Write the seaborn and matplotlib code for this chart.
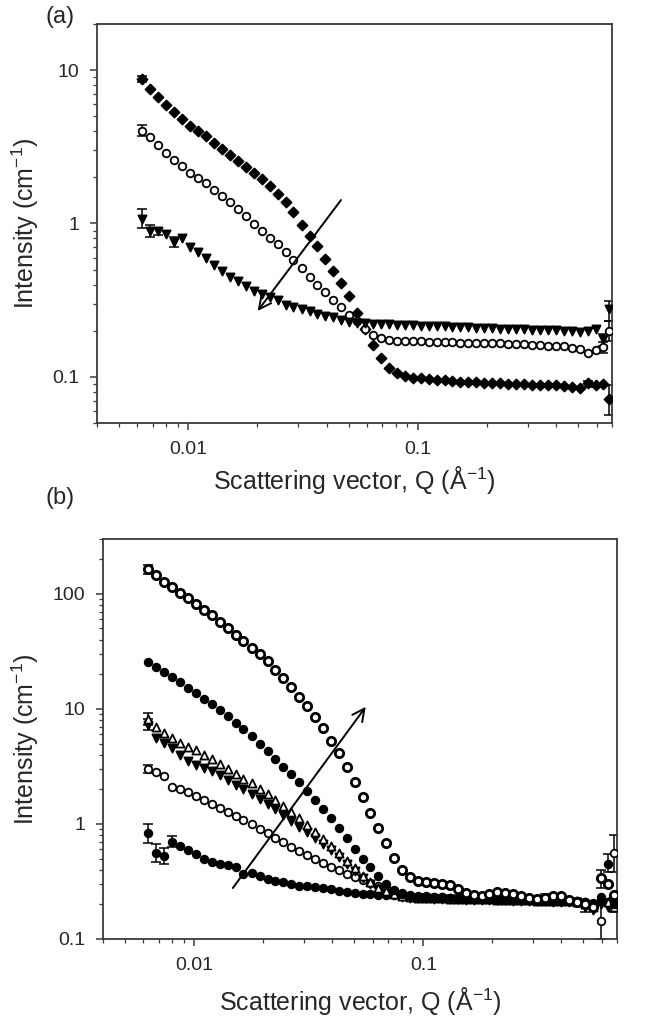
import numpy as np
import matplotlib
matplotlib.use("Agg")
import matplotlib.pyplot as plt
from matplotlib.ticker import FixedLocator, NullFormatter, LogLocator
import seaborn as sns

# ---------------- data ----------------
q = [0.0063, 0.0068, 0.0074, 0.0080, 0.0087, 0.0094, 0.0102, 0.0110, 0.0119, 0.0129,
     0.0140, 0.0152, 0.0164, 0.0178, 0.0193, 0.0209, 0.0226, 0.0245, 0.0265, 0.0287,
     0.0311, 0.0337, 0.0365, 0.0395, 0.0428, 0.0463, 0.0502, 0.0543, 0.0588, 0.0637,
     0.0690, 0.0747, 0.0809, 0.0876, 0.0949, 0.1028, 0.1113, 0.1205, 0.1305, 0.1413,
     0.1530, 0.1657, 0.1795, 0.1944, 0.2105, 0.2280, 0.2469, 0.2674, 0.2896, 0.3136,
     0.3396, 0.3678, 0.3983, 0.4313, 0.4671, 0.5058, 0.5478, 0.5932, 0.6424, 0.6800]

# panel (a)
a_diamond = [8.7, 7.5, 6.7, 5.9, 5.3, 4.8, 4.3, 4.0, 3.7, 3.35,
             3.05, 2.78, 2.55, 2.35, 2.15, 1.95, 1.75, 1.56, 1.38, 1.18,
             0.98, 0.83, 0.71, 0.59, 0.49, 0.41, 0.335, 0.26, 0.205, 0.162,
             0.132, 0.115, 0.106, 0.102, 0.099, 0.098, 0.097, 0.096, 0.095, 0.094,
             0.093, 0.092, 0.092, 0.091, 0.091, 0.091, 0.090, 0.090, 0.090, 0.089,
             0.089, 0.088, 0.088, 0.087, 0.086, 0.085, 0.091, 0.089, 0.090, 0.072]
a_circle = [4.0, 3.65, 3.25, 2.9, 2.6, 2.38, 2.13, 1.98, 1.84, 1.65,
            1.50, 1.38, 1.24, 1.12, 0.99, 0.90, 0.81, 0.73, 0.65, 0.58,
            0.51, 0.45, 0.40, 0.355, 0.315, 0.285, 0.255, 0.23, 0.205, 0.188,
            0.178, 0.174, 0.172, 0.172, 0.171, 0.171, 0.170, 0.169, 0.168, 0.168,
            0.167, 0.167, 0.166, 0.166, 0.165, 0.165, 0.164, 0.163, 0.163, 0.162,
            0.161, 0.160, 0.159, 0.158, 0.155, 0.152, 0.144, 0.150, 0.156, 0.200]
a_triangle = [1.07, 0.90, 0.89, 0.86, 0.76, 0.80, 0.70, 0.65, 0.60, 0.54,
              0.49, 0.45, 0.42, 0.39, 0.365, 0.345, 0.33, 0.315, 0.295, 0.285,
              0.275, 0.268, 0.258, 0.250, 0.244, 0.236, 0.229, 0.226, 0.224, 0.222,
              0.221, 0.220, 0.219, 0.218, 0.217, 0.216, 0.215, 0.214, 0.213, 0.212,
              0.211, 0.210, 0.209, 0.208, 0.207, 0.205, 0.205, 0.204, 0.204, 0.203,
              0.202, 0.202, 0.201, 0.200, 0.199, 0.197, 0.200, 0.205, 0.176, 0.277]
a_err_q = [0.0063, 0.0063, 0.0063, 0.0068, 0.0074, 0.0087, 0.5478, 0.6424, 0.6424, 0.6800, 0.6800, 0.6800]
a_err_lo = [8.4, 3.7, 0.94, 0.82, 0.84, 0.70, 0.086, 0.142, 0.16, 0.056, 0.172, 0.23]
a_err_hi = [9.1, 4.4, 1.25, 0.98, 0.94, 0.82, 0.094, 0.170, 0.19, 0.088, 0.232, 0.31]
a_arrow = [(0.047, 1.47), (0.0197, 0.26)]   # start, end

# panel (b)
b_top_open = [163, 145, 128, 114, 102, 92, 82, 73, 65, 57,
              50, 44, 39, 34, 30, 26, 22, 18.5, 15.5, 12.8,
              10.5, 8.5, 6.8, 5.3, 4.1, 3.1, 2.3, 1.7, 1.25, 0.92,
              0.68, 0.51, 0.40, 0.345, 0.32, 0.31, 0.305, 0.30, 0.295, 0.27,
              0.25, 0.24, 0.235, 0.245, 0.255, 0.25, 0.245, 0.235, 0.225, 0.222,
              0.225, 0.235, 0.235, 0.22, 0.21, 0.20, 0.19, 0.34, 0.30, 0.24]
b_filled_circle = [25.5, 23, 21, 19, 17, 15.3, 13.8, 12.3, 11, 9.8,
                   8.6, 7.6, 6.7, 5.8, 5.0, 4.3, 3.7, 3.15, 2.7, 2.3,
                   1.95, 1.62, 1.35, 1.12, 0.92, 0.75, 0.61, 0.50, 0.42, 0.35,
                   0.30, 0.265, 0.245, 0.235, 0.23, 0.228, 0.226, 0.225, 0.225, 0.224,
                   0.223, 0.222, 0.222, 0.221, 0.220, 0.220, 0.218, 0.218, 0.217, 0.216,
                   0.215, 0.215, 0.214, 0.213, 0.212, 0.210, 0.205, 0.220, 0.450, 0.200]
b_open_tri = [8.2, 7.0, 6.2, 5.6, 5.1, 4.7, 4.35, 4.0, 3.65, 3.3,
              3.0, 2.72, 2.48, 2.25, 2.02, 1.82, 1.62, 1.44, 1.27, 1.12,
              0.98, 0.85, 0.74, 0.64, 0.56, 0.48, 0.41, 0.355, 0.31, 0.28,
              0.26, 0.245, 0.235, 0.23, 0.228, 0.227, 0.226, 0.225, 0.224, 0.224,
              0.223, 0.222, 0.221, 0.221, 0.220, 0.220, 0.219, 0.218, 0.217, 0.216,
              0.215, 0.214, 0.213, 0.212, 0.210, 0.200, 0.190, 0.220, 0.210, 0.190]
b_filled_tri = [7.3, 5.6, 5.1, 4.6, 4.0, 3.5, 3.25, 3.05, 2.9, 2.65,
                2.42, 2.2, 2.0, 1.82, 1.65, 1.5, 1.35, 1.2, 1.07, 0.95,
                0.85, 0.76, 0.67, 0.59, 0.52, 0.45, 0.39, 0.34, 0.30, 0.27,
                0.25, 0.24, 0.232, 0.228, 0.226, 0.225, 0.224, 0.223, 0.222, 0.221,
                0.220, 0.219, 0.219, 0.218, 0.218, 0.217, 0.216, 0.215, 0.214, 0.213,
                0.212, 0.211, 0.210, 0.209, 0.208, 0.190, 0.180, 0.200, 0.190, 0.210]
b_open_circle = [3.0, 2.8, 2.6, 2.1, 2.0, 1.88, 1.75, 1.62, 1.5, 1.38,
                 1.27, 1.18, 1.08, 0.99, 0.91, 0.83, 0.75, 0.69, 0.63, 0.58,
                 0.54, 0.50, 0.46, 0.425, 0.395, 0.365, 0.345, 0.325, 0.305, 0.29,
                 0.275, 0.26, 0.25, 0.243, 0.238, 0.235, 0.232, 0.230, 0.228, 0.226,
                 0.225, 0.224, 0.226, 0.228, 0.230, 0.228, 0.225, 0.222, 0.220, 0.220,
                 0.222, 0.225, 0.222, 0.218, 0.215, 0.210, 0.200, 0.143, 0.210, 0.560]
b_bottom_filled = [0.83, 0.56, 0.53, 0.70, 0.64, 0.59, 0.55, 0.50, 0.47, 0.45,
                   0.44, 0.42, 0.37, 0.375, 0.355, 0.335, 0.32, 0.31, 0.30, 0.29,
                   0.288, 0.282, 0.278, 0.27, 0.263, 0.257, 0.252, 0.248, 0.245, 0.243,
                   0.241, 0.239, 0.237, 0.235, 0.233, 0.232, 0.231, 0.230, 0.229, 0.228,
                   0.227, 0.226, 0.225, 0.224, 0.223, 0.222, 0.221, 0.220, 0.219, 0.218,
                   0.217, 0.216, 0.215, 0.214, 0.212, 0.210, 0.190, 0.230, 0.210, 0.200]
b_err_q = [0.0063, 0.0063, 0.0063, 0.0063, 0.0063, 0.0068, 0.0074, 0.0080,
           0.3396, 0.5058, 0.5932, 0.5932, 0.6424, 0.6800, 0.6800]
b_err_lo = [150, 7.3, 6.5, 2.75, 0.68, 0.47, 0.45, 0.63,
            0.205, 0.17, 0.10, 0.28, 0.38, 0.38, 0.17]
b_err_hi = [178, 9.3, 8.1, 3.25, 1.0, 0.67, 0.62, 0.78,
            0.245, 0.21, 0.20, 0.40, 0.55, 0.80, 0.23]
b_arrow = [(0.0145, 0.265), (0.057, 10.9)]   # start, end

x_ticks = [0.01, 0.1]
x_ticklabels = ["0.01", "0.1"]
a_yticks = [0.1, 1, 10]
a_yticklabels = ["0.1", "1", "10"]
b_yticks = [0.1, 1, 10, 100]
b_yticklabels = ["0.1", "1", "10", "100"]

# ---------------- style ----------------
sns.set_style("ticks")
plt.rcParams['font.family'] = ['Liberation Sans', 'DejaVu Sans']
plt.rcParams['mathtext.default'] = 'regular'

fig = plt.figure(figsize=(6.62, 10.28), dpi=100)
ax_a = fig.add_axes([0.1465, 0.5885, 0.778, 0.3882])
ax_b = fig.add_axes([0.1556, 0.0866, 0.7764, 0.3891])

SPINE = '#3a3a3a'


def style_axis(ax, ylim, yticks, yticklabels, xpad):
    ax.set_xscale('log')
    ax.set_yscale('log')
    ax.set_xlim(0.004, 0.70)
    ax.set_ylim(*ylim)
    ax.xaxis.set_major_locator(FixedLocator(x_ticks))
    ax.set_xticklabels(x_ticklabels)
    ax.xaxis.set_minor_locator(LogLocator(base=10, subs=np.arange(2, 10)))
    ax.xaxis.set_minor_formatter(NullFormatter())
    ax.yaxis.set_major_locator(FixedLocator(yticks))
    ax.set_yticklabels(yticklabels)
    ax.yaxis.set_minor_locator(LogLocator(base=10, subs=np.arange(2, 10)))
    ax.yaxis.set_minor_formatter(NullFormatter())
    for s in ax.spines.values():
        s.set_color(SPINE)
        s.set_linewidth(1.3)
    ax.tick_params(which='major', direction='out', length=5, width=1.1,
                   color=SPINE, labelsize=14, pad=8)
    ax.tick_params(which='minor', direction='out', length=3, width=0.9, color=SPINE)
    ax.set_xlabel(r'Scattering vector, Q (Å$^{-1}$)', fontsize=18, labelpad=xpad)
    ax.set_ylabel(r'Intensity (cm$^{-1}$)', fontsize=18, labelpad=8)


def draw_series(ax, y, marker, filled, s=30, lw=1.3):
    if filled:
        sns.scatterplot(x=q, y=y, ax=ax, marker=marker, color='black',
                        edgecolor='black', s=s, linewidth=lw, zorder=3)
    else:
        sns.scatterplot(x=q, y=y, ax=ax, marker=marker, color='white',
                        edgecolor='black', s=s, linewidth=lw, zorder=3)


def draw_err(ax, eq, lo, hi):
    eq = np.array(eq); lo = np.array(lo); hi = np.array(hi)
    mid = np.sqrt(lo * hi)
    ax.errorbar(eq, mid, yerr=[mid - lo, hi - mid], fmt='none', ecolor='black',
                elinewidth=1.1, capsize=3.5, capthick=1.1, zorder=2)


# ----- panel (a)
draw_err(ax_a, a_err_q, a_err_lo, a_err_hi)
draw_series(ax_a, a_diamond, 'D', True, s=26)
draw_series(ax_a, a_circle, 'o', False, s=30)
draw_series(ax_a, a_triangle, 'v', True, s=34)
ax_a.annotate('', xy=a_arrow[1], xytext=a_arrow[0],
              arrowprops=dict(arrowstyle='->', lw=1.4, color='black', mutation_scale=22))
style_axis(ax_a, (0.05, 20), a_yticks, a_yticklabels, xpad=4)

# ----- panel (b)
draw_err(ax_b, b_err_q, b_err_lo, b_err_hi)
draw_series(ax_b, b_bottom_filled, 'o', True, s=30)
draw_series(ax_b, b_open_circle, 'o', False, s=30)
draw_series(ax_b, b_filled_tri, 'v', True, s=34)
draw_series(ax_b, b_open_tri, '^', False, s=34)
draw_series(ax_b, b_filled_circle, 'o', True, s=30)
draw_series(ax_b, b_top_open, 'o', False, s=36, lw=2.0)
ax_b.annotate('', xy=b_arrow[1], xytext=b_arrow[0],
              arrowprops=dict(arrowstyle='->', lw=1.4, color='black', mutation_scale=22))
style_axis(ax_b, (0.1, 300), b_yticks, b_yticklabels, xpad=8)

fig.text(0.068, 0.983, '(a)', fontsize=17, ha='left', va='center')
fig.text(0.068, 0.516, '(b)', fontsize=17, ha='left', va='center')

fig.savefig('out.png', dpi=100)
